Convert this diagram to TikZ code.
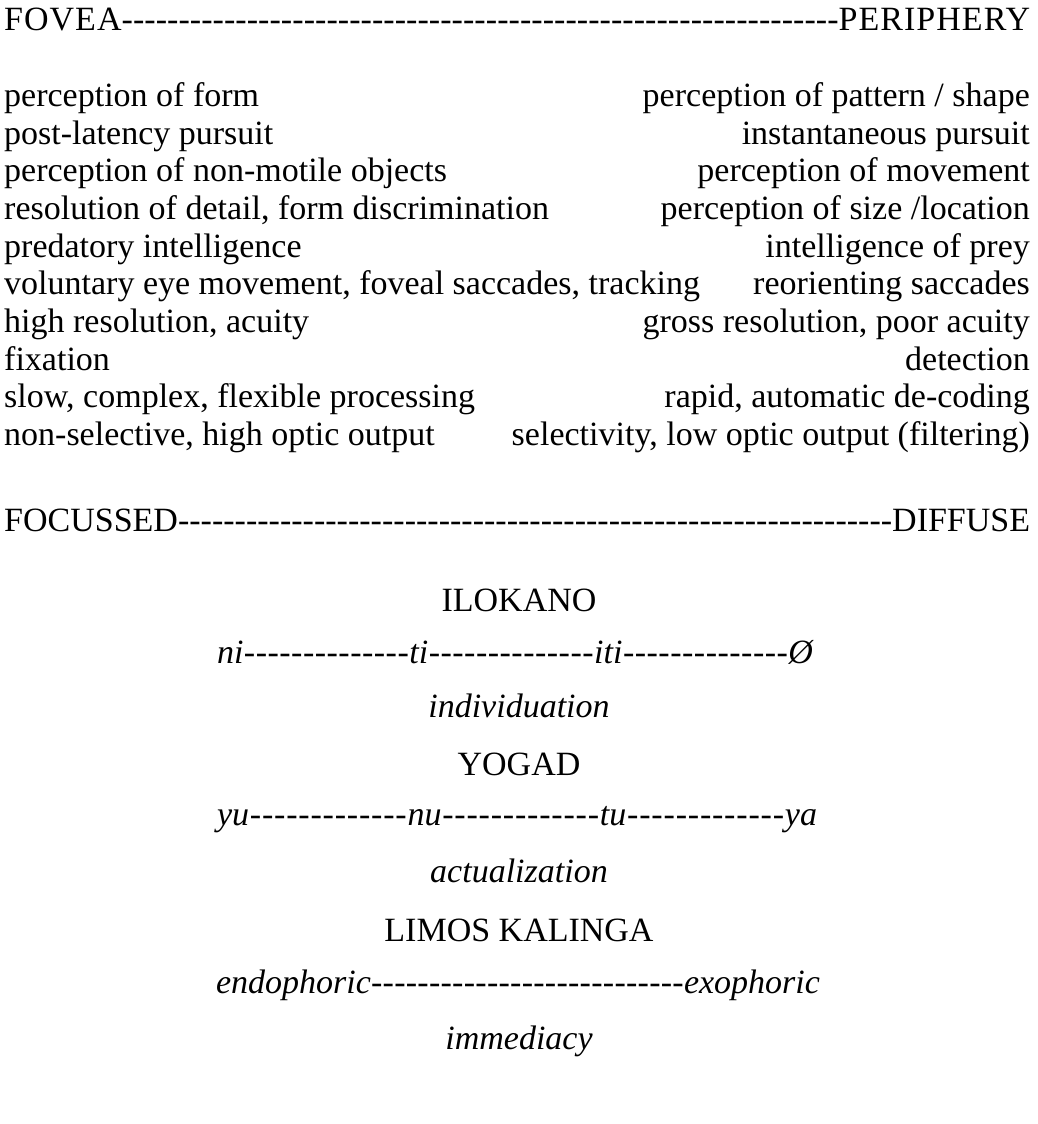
\documentclass[tikz,border=0pt]{standalone}
\usepackage{fontspec}
\setmainfont{Liberation Serif}
% lightly tracked capitals for the top scale heading
\newfontfamily\trackedcaps{Liberation Serif}[LetterSpace=3]
% a run of hyphens that stretches to fill the remaining width of an \hbox
\newcommand\hyphenrun{\xleaders\hbox{-}\hfill}
\begin{document}
\begin{tikzpicture}[x=1pt,y=-1pt,
  txt/.style={inner sep=0pt,font=\fontsize{34}{38}\selectfont},
  lefttxt/.style={txt,anchor=base west},
  righttxt/.style={txt,anchor=base east},
  midtxt/.style={txt,anchor=base}]
\useasboundingbox (0,0) rectangle (1038,1124);

% scale headings
\node[lefttxt] (fovea) at (4,31)
  {\hbox to 1026pt{{\trackedcaps FOVEA}\hyphenrun{\trackedcaps PERIPHERY}}};

% paired properties: fovea side (left) and periphery side (right)
\node[lefttxt]  (l1)  at (4,106)    {perception of form};
\node[righttxt] (r1)  at (1030,106) {perception of pattern / shape};
\node[lefttxt]  (l2)  at (4,144)    {post-latency pursuit};
\node[righttxt] (r2)  at (1030,144) {instantaneous pursuit};
\node[lefttxt]  (l3)  at (4,181)    {perception of non-motile objects};
\node[righttxt] (r3)  at (1030,181) {perception of movement};
\node[lefttxt]  (l4)  at (4,219)    {resolution of detail, form discrimination};
\node[righttxt] (r4)  at (1030,219) {perception of size /location};
\node[lefttxt]  (l5)  at (4,257)    {predatory intelligence};
\node[righttxt] (r5)  at (1030,257) {intelligence of prey};
\node[lefttxt]  (l6)  at (4,294)    {voluntary eye movement, foveal saccades, tracking};
\node[righttxt] (r6)  at (1030,294) {reorienting saccades};
\node[lefttxt]  (l7)  at (4,332)    {high resolution, acuity};
\node[righttxt] (r7)  at (1030,332) {gross resolution, poor acuity};
\node[lefttxt]  (l8)  at (4,370)    {fixation};
\node[righttxt] (r8)  at (1030,370) {detection};
\node[lefttxt]  (l9)  at (4,407)    {slow, complex, flexible processing};
\node[righttxt] (r9)  at (1030,407) {rapid, automatic de-coding};
\node[lefttxt]  (l10) at (4,445)    {non-selective, high optic output};
\node[righttxt] (r10) at (1030,445) {selectivity, low optic output (filtering)};

\node[lefttxt] (focus) at (4,531) {\hbox to 1026pt{FOCUSSED\hyphenrun DIFFUSE}};

% language scales
\node[midtxt] (ilokano) at (519,611) {ILOKANO};
\node[midtxt] (ilkscale) at (515,663)
  {\itshape\hbox to 596pt{ni\hyphenrun ti\hyphenrun iti\hyphenrun Ø}};
\node[midtxt] (indiv) at (519,717) {\itshape individuation};

\node[midtxt] (yogad) at (519,775) {YOGAD};
\node[midtxt] (ygdscale) at (517,825)
  {\itshape\hbox to 600pt{yu\hyphenrun nu\hyphenrun tu\hyphenrun ya}};
\node[midtxt] (actual) at (519,882) {\itshape actualization};

\node[midtxt] (limos) at (519,941) {LIMOS KALINGA};
\node[midtxt] (lmsscale) at (518,993)
  {\itshape\hbox to 604pt{endophoric\hyphenrun exophoric}};
\node[midtxt] (immed) at (519,1049) {\itshape immediacy};
\end{tikzpicture}
\end{document}
